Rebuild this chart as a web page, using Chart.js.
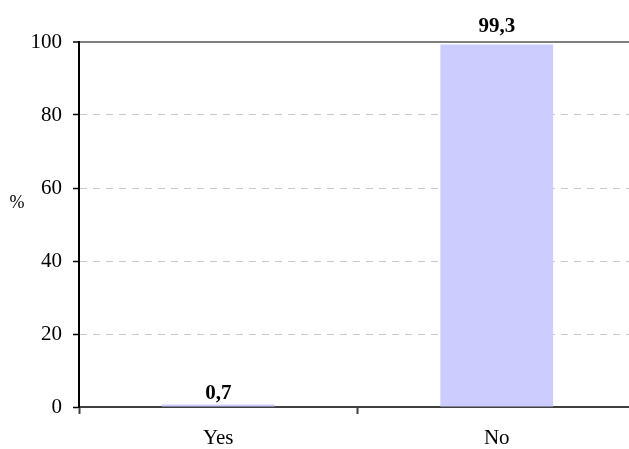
<!DOCTYPE html>
<html>
<head>
<meta charset="utf-8">
<script src="https://cdn.jsdelivr.net/npm/chart.js@4/dist/chart.umd.min.js"></script>
<style>
  html, body { margin: 0; padding: 0; background: #fff; overflow: hidden; }
  #wrap { width: 629px; height: 449px; overflow: hidden; }
</style>
</head>
<body>
<div id="wrap"><canvas id="chart" width="640" height="449"></canvas></div>
<script>
const categories = ["Yes", "No"];
const values = [0.7, 99.3];
const yMin = 0, yMax = 100, yStep = 20;
const yTitle = "%";

const serif = "'Liberation Serif', 'Times New Roman', serif";

// bold value labels above bars, decimal comma
const valueLabels = {
  id: "valueLabels",
  afterDatasetsDraw(chart) {
    const ctx = chart.ctx;
    const meta = chart.getDatasetMeta(0);
    const area = chart.chartArea;
    ctx.save();
    ctx.font = "bold 21px " + serif;
    ctx.fillStyle = "#000";
    ctx.textAlign = "center";
    ctx.textBaseline = "alphabetic";
    meta.data.forEach((bar, i) => {
      let y = bar.y - 5;
      if (y < area.top + 8) y = area.top - 10;
      ctx.fillText(values[i].toFixed(1).replace(".", ","), bar.x, y);
    });
    ctx.restore();
  }
};

// horizontal "%" axis label
const axisLabel = {
  id: "axisLabel",
  afterDraw(chart) {
    const ctx = chart.ctx;
    ctx.save();
    ctx.font = "18px " + serif;
    ctx.fillStyle = "#000";
    ctx.textAlign = "center";
    ctx.textBaseline = "middle";
    ctx.fillText(yTitle, 17, 203);
    ctx.restore();
  }
};

new Chart(document.getElementById("chart"), {
  type: "bar",
  data: {
    labels: categories,
    datasets: [{
      data: values,
      backgroundColor: "#ccccff",
      borderWidth: 0,
      barPercentage: 0.405,
      categoryPercentage: 1
    }]
  },
  options: {
    responsive: false,
    animation: false,
    devicePixelRatio: 1,
    layout: { padding: { top: 42, right: 4, left: 0, bottom: 0 } },
    plugins: { legend: { display: false }, tooltip: { enabled: false } },
    scales: {
      x: {
        afterFit: (s) => { s.height = 42; },
        ticks: { color: "#000", font: { family: serif, size: 21 }, padding: 12 },
        grid: {
          offset: true,
          drawOnChartArea: false,
          drawTicks: true,
          tickLength: 7,
          tickColor: "#404040",
          tickWidth: 2
        },
        border: { color: "#404040", width: 2 }
      },
      y: {
        min: yMin,
        max: yMax,
        afterFit: (s) => { s.width = 79; },
        ticks: { stepSize: yStep, color: "#000", font: { family: serif, size: 21 }, padding: 11 },
        grid: {
          color: (c) => c.tick && c.tick.value === yMax ? "#808080" : (c.tick && c.tick.value === yMin ? "rgba(0,0,0,0)" : "#c8c8c8"),
          lineWidth: (c) => c.tick && c.tick.value === yMax ? 2 : 1,
          tickColor: "#000",
          tickLength: 6,
          tickWidth: 1.5
        },
        border: {
          color: "#000",
          width: 2,
          dash: (c) => c.tick && c.tick.value === yMax ? [] : [7, 6]
        }
      }
    }
  },
  plugins: [valueLabels, axisLabel]
});
</script>
</body>
</html>
